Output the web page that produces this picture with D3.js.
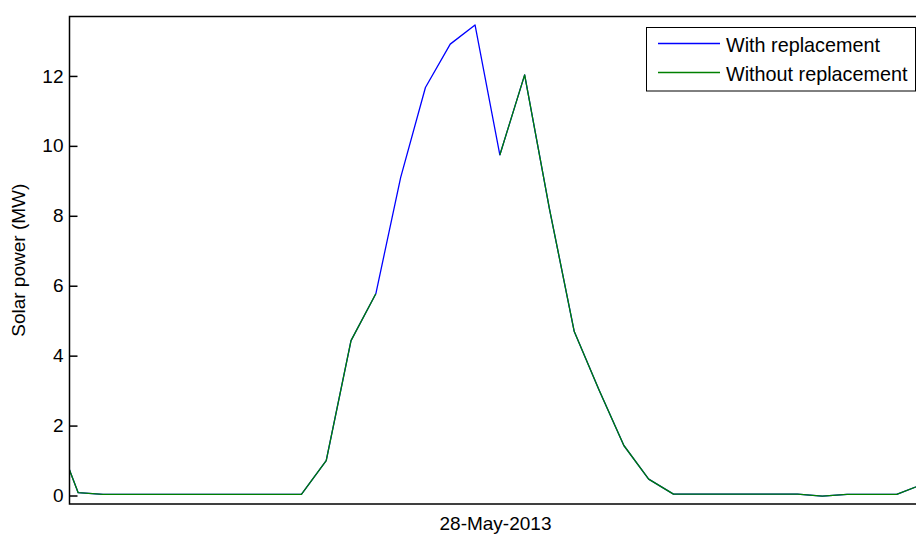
<!DOCTYPE html>
<html>
<head>
<meta charset="utf-8">
<script src="https://cdn.jsdelivr.net/npm/d3@7"></script>
<style>
  body { margin: 0; background: #fff; }
  svg { display: block; }
  text { font-family: "Liberation Sans", Arial, sans-serif; }
</style>
</head>
<body>
<svg id="chart" width="916" height="534"></svg>
<script>
// ---- data ----
const hours = [-1, 0, 1, 2, 3, 4, 5, 6, 7, 8, 9, 10, 11, 12, 13, 14, 15, 16, 17,
               18, 19, 20, 21, 22, 23, 24, 25, 26, 27, 28, 29, 30, 31, 32, 33, 34];
const withReplacement = [1.94, 0.08, 0.03, 0.03, 0.03, 0.03, 0.03, 0.03, 0.03, 0.03, 0.03,
                         1.0, 4.43, 5.77, 9.09, 11.67, 12.91, 13.46, 9.74,
                         12.03, 8.2, 4.69, 3.02, 1.43, 0.47, 0.04, 0.04, 0.04, 0.04, 0.04, 0.04,
                         -0.02, 0.03, 0.03, 0.03, 0.31];
const withoutReplacement = [1.94, 0.08, 0.03, 0.03, 0.03, 0.03, 0.03, 0.03, 0.03, 0.03, 0.03,
                            1.0, 4.43, 5.77, null, null, null, null, 9.74,
                            12.03, 8.2, 4.69, 3.02, 1.43, 0.47, 0.04, 0.04, 0.04, 0.04, 0.04, 0.04,
                            -0.02, 0.03, 0.03, 0.03, 0.31];
const yTicks = [0, 2, 4, 6, 8, 10, 12];
const seriesNames = ["With replacement", "Without replacement"];
const seriesColors = ["#0000ff", "#008000"];
const xLabel = "28-May-2013";
const yLabel = "Solar power (MW)";

// ---- layout ----
const svg = d3.select("#chart");
const pL = 69.5, pR = 921.5, pT = 16.5, pB = 504;
const fontSize = 19;
const legendFont = 19.8;

const x = d3.scaleLinear().domain([-0.35, 34]).range([pL, pR]);
const y = d3.scaleLinear().domain([-0.243, 13.70]).range([pB, pT]);

svg.append("defs").append("clipPath").attr("id", "plotclip")
  .append("rect").attr("x", pL).attr("y", pT)
  .attr("width", pR - pL).attr("height", pB - pT);

// series
const seriesData = [withReplacement, withoutReplacement];
const line = d3.line()
  .defined(d => d.v !== null)
  .x(d => x(d.t))
  .y(d => y(d.v));

const plot = svg.append("g").attr("clip-path", "url(#plotclip)");
seriesData.forEach((vals, i) => {
  const pts = hours.map((t, j) => ({ t: t, v: vals[j] }));
  plot.append("path")
    .datum(pts)
    .attr("fill", "none")
    .attr("stroke", seriesColors[i])
    .attr("stroke-width", 1.3)
    .attr("stroke-linejoin", "round")
    .attr("d", line);
});

// y axis
const yAxis = d3.axisLeft(y).tickValues(yTicks).tickSize(-8).tickPadding(6)
  .tickFormat(d3.format("d"));
const gy = svg.append("g").attr("transform", `translate(${pL},0)`).call(yAxis);
gy.select(".domain").remove();
gy.selectAll(".tick line").attr("stroke", "#000").attr("stroke-width", 1.5);
gy.selectAll(".tick text").attr("font-size", fontSize).attr("fill", "#000")
  .attr("font-family", "Liberation Sans, Arial, sans-serif");

// box
svg.append("rect")
  .attr("x", pL).attr("y", pT)
  .attr("width", pR - pL).attr("height", pB - pT)
  .attr("fill", "none").attr("stroke", "#000").attr("stroke-width", 1.5);

// labels
svg.append("text")
  .attr("x", (pL + pR) / 2).attr("y", 530)
  .attr("text-anchor", "middle").attr("font-size", fontSize).attr("fill", "#000")
  .text(xLabel);

svg.append("text")
  .attr("transform", `translate(25,${(pT + pB) / 2}) rotate(-90)`)
  .attr("text-anchor", "middle").attr("font-size", fontSize).attr("fill", "#000")
  .text(yLabel);

// legend
const lg = svg.append("g");
lg.append("rect")
  .attr("x", 646.5).attr("y", 27.5).attr("width", 269).attr("height", 63.5)
  .attr("fill", "#fff").attr("stroke", "#000").attr("stroke-width", 1);
const lineY = [43.5, 72.5];
const textBase = [51.5, 81];
seriesNames.forEach((name, i) => {
  lg.append("line")
    .attr("x1", 658).attr("x2", 720)
    .attr("y1", lineY[i]).attr("y2", lineY[i])
    .attr("stroke", seriesColors[i]).attr("stroke-width", 1.3);
  lg.append("text")
    .attr("x", 726).attr("y", textBase[i])
    .attr("font-size", legendFont).attr("fill", "#000")
    .text(name);
});
</script>
</body>
</html>
